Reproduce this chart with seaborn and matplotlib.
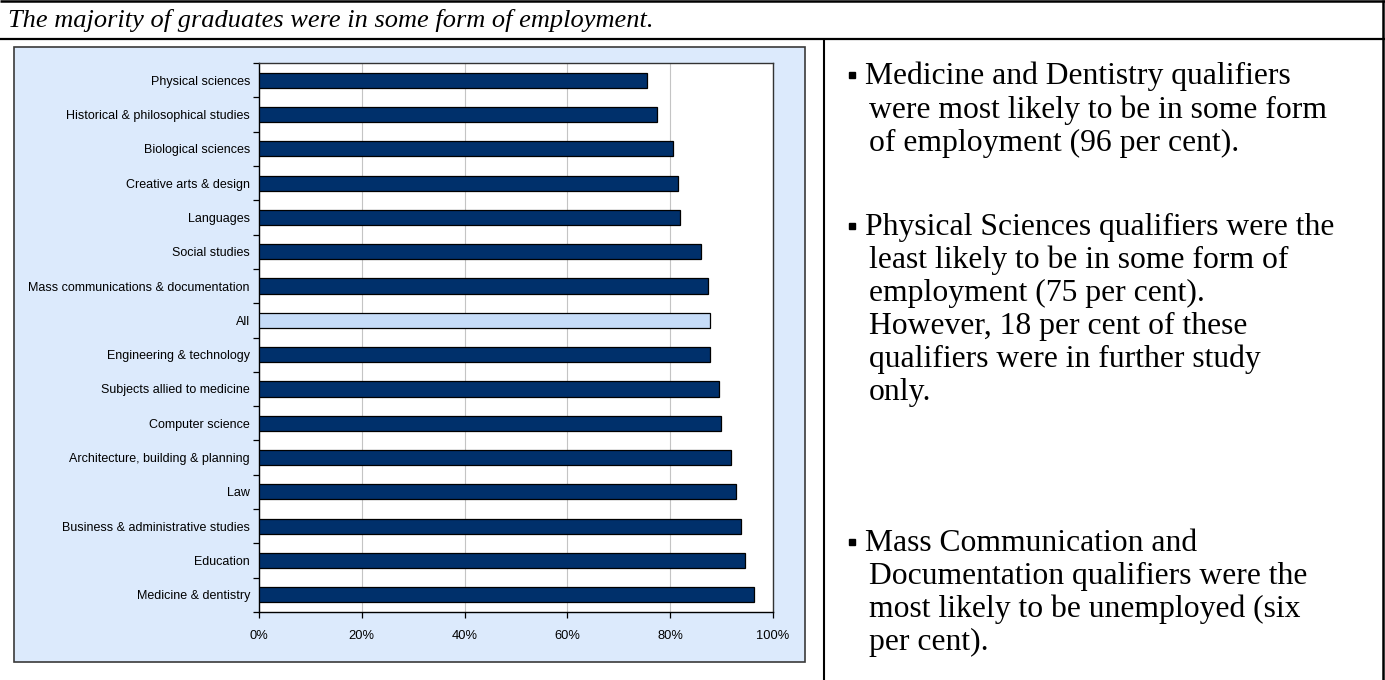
import numpy as np
import pandas as pd
import matplotlib
matplotlib.use("Agg")
import matplotlib.pyplot as plt
import seaborn as sns
from matplotlib.patches import Rectangle
from matplotlib.lines import Line2D

# Share of qualifiers in some form of employment, by subject area
subjects = [
    "Physical sciences",
    "Historical & philosophical studies",
    "Biological sciences",
    "Creative arts & design",
    "Languages",
    "Social studies",
    "Mass communications & documentation",
    "All",
    "Engineering & technology",
    "Subjects allied to medicine",
    "Computer science",
    "Architecture, building & planning",
    "Law",
    "Business & administrative studies",
    "Education",
    "Medicine & dentistry",
]
employed_pct = [75.4, 77.5, 80.5, 81.6, 82.0, 85.9, 87.4, 87.7,
                87.7, 89.5, 89.8, 91.8, 92.8, 93.7, 94.6, 96.4]
highlight = "All"

x_ticks = [0, 20, 40, 60, 80, 100]
x_tick_labels = ["0%", "20%", "40%", "60%", "80%", "100%"]

title_text = "The majority of graduates were in some form of employment."
bullet_points = [
    ["Medicine and Dentistry qualifiers",
     "were most likely to be in some form",
     "of employment (96 per cent)."],
    ["Physical Sciences qualifiers were the",
     "least likely to be in some form of",
     "employment (75 per cent).",
     "However, 18 per cent of these",
     "qualifiers were in further study",
     "only."],
    ["Mass Communication and",
     "Documentation qualifiers were the",
     "most likely to be unemployed (six",
     "per cent)."],
]
bullet_rows = [[74, 108, 141],
               [225, 258, 291, 324, 357, 390],
               [541, 574, 607, 640]]

W, H = 1385, 680
sns.set_theme(style="ticks")
plt.rcParams["font.family"] = ["Liberation Sans", "DejaVu Sans"]

fig = plt.figure(figsize=(W / 100, H / 100), dpi=100)
fig.patch.set_facecolor("white")


def fx(px):
    return px / W


def fy(py):
    return 1 - py / H


# table rules around the caption and the two cells
rule_kw = dict(transform=fig.transFigure, color="black", solid_capstyle="butt")
fig.add_artist(Line2D([0, 1], [fy(1.2), fy(1.2)], lw=1.8, **rule_kw))
fig.add_artist(Line2D([0, 1], [fy(38.5), fy(38.5)], lw=1.6, **rule_kw))
fig.add_artist(Line2D([fx(1382.6), fx(1382.6)], [0, 1], lw=1.8, **rule_kw))
fig.add_artist(Line2D([fx(824), fx(824)], [0, fy(38.5)], lw=1.5, **rule_kw))

fig.text(fx(8), fy(27.5), title_text, family="Liberation Serif", style="italic",
         fontsize=19, va="baseline", ha="left", color="black")

# light-blue chart frame
fig.add_artist(Rectangle((fx(13.5), fy(662)), fx(805) - fx(13.5), fy(47) - fy(662),
                         transform=fig.transFigure, facecolor="#DCEAFC",
                         edgecolor="#3A3A3A", lw=1.2, zorder=0))

ax = fig.add_axes([fx(259), fy(612), fx(773) - fx(259), fy(63) - fy(612)])
ax.set_facecolor("white")

df = pd.DataFrame({"subject": subjects, "pct": employed_pct})
colors = {s: ("#C6DCF8" if s == highlight else "#00306B") for s in subjects}
sns.barplot(data=df, x="pct", y="subject", hue="subject", palette=colors,
            legend=False, orient="h", width=0.44, edgecolor="black",
            linewidth=0.9, saturation=1, ax=ax, zorder=3)

ax.set_xlim(0, 100)
ax.set_ylim(len(subjects) - 0.5, -0.5)
ax.set_xlabel("")
ax.set_ylabel("")

ax.set_xticks(x_ticks)
ax.set_xticklabels(x_tick_labels)
ax.xaxis.grid(True, color="#C4C4C4", lw=0.8)
ax.set_axisbelow(True)

ax.set_yticks(np.arange(-0.5, len(subjects), 1))
ax.set_yticklabels([])
ax.set_yticks(np.arange(len(subjects)), minor=True)
ax.set_yticklabels(subjects, minor=True)

ax.tick_params(axis="x", which="major", length=4, width=0.9, direction="out",
               bottom=True, labelsize=9.3, pad=9, colors="black")
ax.tick_params(axis="y", which="major", length=4, width=0.9, direction="out",
               left=True, colors="black")
ax.tick_params(axis="y", which="minor", length=0, pad=6.5, labelsize=9,
               left=True, labelcolor="black")

for side in ["left", "bottom"]:
    ax.spines[side].set_color("black")
    ax.spines[side].set_linewidth(1.0)
for side in ["top", "right"]:
    ax.spines[side].set_visible(True)
    ax.spines[side].set_color("#333333")
    ax.spines[side].set_linewidth(1.0)

# bullet commentary in the right-hand cell
for lines, rows in zip(bullet_points, bullet_rows):
    fig.add_artist(Line2D([fx(852)], [fy(rows[0] + 1)], marker="s", markersize=4.8,
                          color="black", transform=fig.transFigure))
    for i, (line, row) in enumerate(zip(lines, rows)):
        x0 = 865 if i == 0 else 869
        fig.text(fx(x0), fy(row + 10), line, family="Liberation Serif",
                 fontsize=22.8, va="baseline", ha="left", color="black")

fig.savefig("out.png", dpi=100, facecolor="white")
